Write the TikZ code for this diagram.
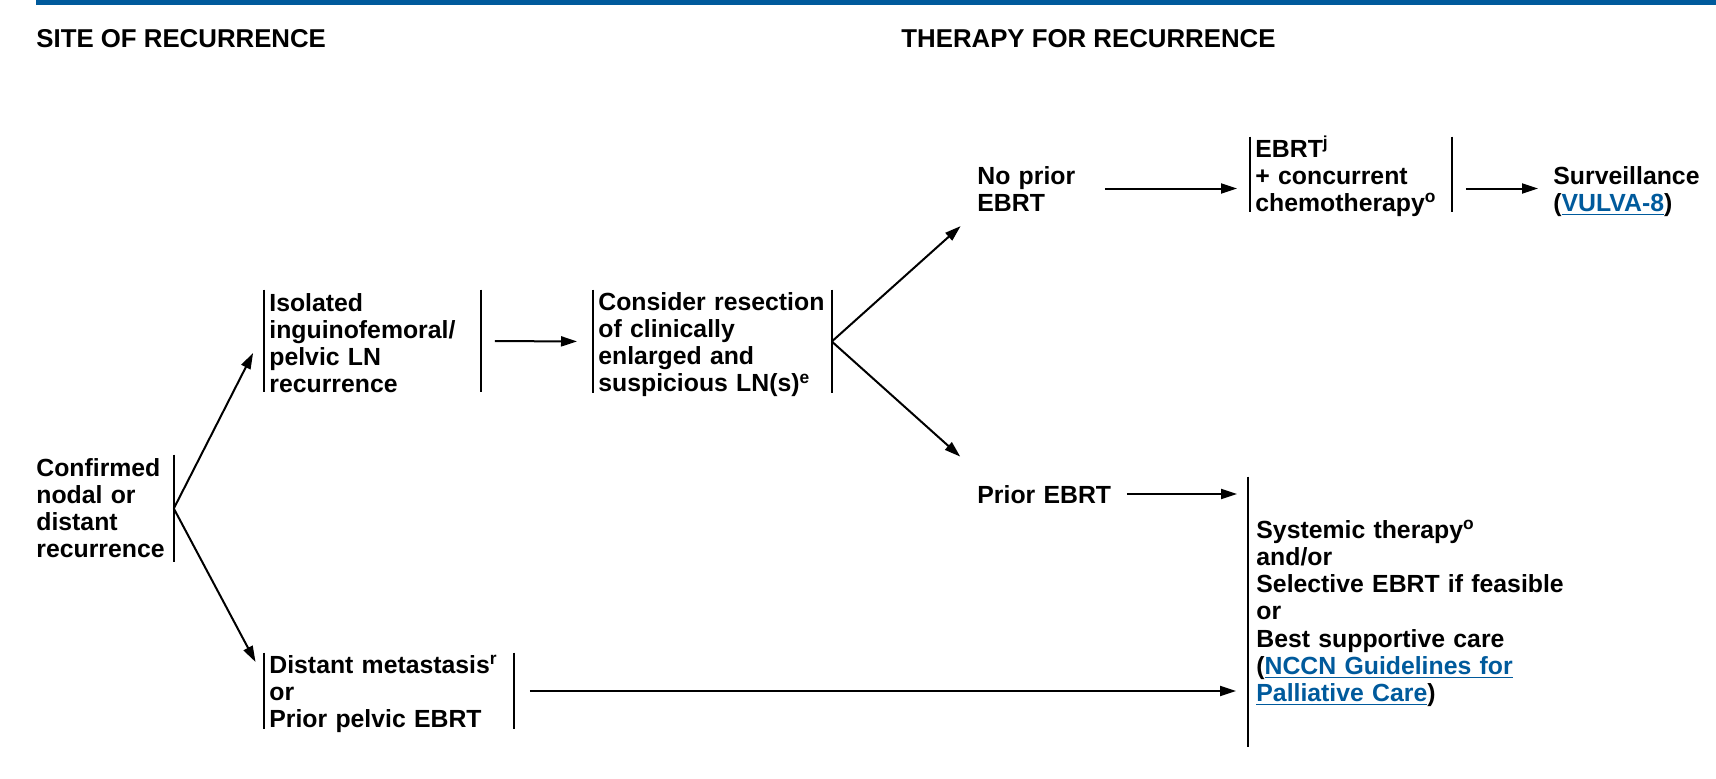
\documentclass[tikz,border=0pt]{standalone}
\usepackage{fontspec}
\setmainfont{Liberation Sans}
\usepackage{tikz}
\usetikzlibrary{arrows.meta}

\definecolor{nccnblue}{RGB}{0,90,156}
\newcommand{\linkto}[1]{{\color{nccnblue}\underline{#1}}}

\begin{document}
\begin{tikzpicture}[x=0.5pt, y=-0.5pt,
    every node/.style={inner sep=0pt, anchor=base west, align=left,
      font=\fontsize{12.4pt}{13.65pt}\selectfont\bfseries},
    heading/.style={font=\fontsize{12.9pt}{14pt}\selectfont\bfseries},
    bar/.style={draw, line width=1pt, -},
    bars/.style={inner xsep=2.5pt, append after command={
      (\tikzlastnode.north west) edge[bar] (\tikzlastnode.south west)
      (\tikzlastnode.north east) edge[bar] (\tikzlastnode.south east)}},
    rbar/.style={append after command={
      (\tikzlastnode.north east) edge[bar] (\tikzlastnode.south east)}},
    lbar/.style={inner xsep=4pt, append after command={
      (\tikzlastnode.north west) edge[bar] (\tikzlastnode.south west)}},
    arr/.style={draw, line width=1pt, -{Triangle[length=8pt,width=5pt]}}]
        \useasboundingbox (0,0) rectangle (1716,778);

        % Headings
        \fill[nccnblue] (36,0) rectangle (1716,5);
        \node[heading] (site) at (36,47) {SITE OF RECURRENCE};
        \node[heading] (therapy) at (901,47) {THERAPY FOR RECURRENCE};

        % Site of recurrence
        \node[rbar, text width=68.5pt, text height=10.5pt, text depth=43pt] (conf) at (36,476)
            {Confirmed\\nodal or\\distant\\recurrence};
        \node[bars, text width=103pt, text height=10.5pt, text depth=40.5pt] (iso) at (264,311)
            {Isolated\\inguinofemoral/\\pelvic LN\\recurrence};
        \node[bars, text width=119.5pt, text height=10pt, text depth=28pt] (dist) at (264,673)
            {Distant metastasis\textsuperscript{r}\\or\\Prior pelvic EBRT};

        % Therapy for recurrence
        \node[bars, text width=114pt, text height=10pt, text depth=41.5pt] (resect) at (593,310)
            {Consider resection\\of clinically\\enlarged and\\suspicious LN(s)\textsuperscript{e}};
        \node[text width=49pt, text height=9pt, text depth=13.5pt] (noprior) at (977,184)
            {No prior\\EBRT};
        \node[text width=67pt, text height=15.5pt, text depth=6.5pt] (prior) at (977,503)
            {Prior EBRT};
        \node[bars, text width=95.5pt, text height=10pt, text depth=27.5pt] (chemo) at (1250,157)
            {EBRT\textsuperscript{j}\\+ concurrent\\chemotherapy\textsuperscript{o}};
        \node[text width=75pt, text height=9pt, text depth=13.5pt] (surv) at (1553,184)
            {Surveillance\\(\linkto{VULVA-8})};
        \node[lbar, text width=160pt, text height=30.5pt, text depth=104.5pt] (palli) at (1248,538)
            {Systemic therapy\textsuperscript{o}\\and/or\\Selective EBRT if feasible\\or\\
             Best supportive care\\(\linkto{NCCN Guidelines for}\\\linkto{Palliative Care})};

        % Arrows
        \draw[arr, shorten >=12pt] (conf.east) -- (iso.175);
        \draw[arr, shorten >=9pt] (conf.east) -- (dist.174);
        \draw[arr, shorten <=7pt, shorten >=8pt] (iso.east) -- (resect.west);
        \draw[arr, shorten >=11pt] (resect.east) -- (noprior.south west);
        \draw[arr, shorten >=11.25pt] (resect.east) -- (prior.north west);
        \draw[arr, shorten <=14.5pt, shorten >=6.5pt] (noprior.east) -- (noprior.east -| chemo.west);
        \draw[arr, shorten <=7pt, shorten >=7.5pt] (chemo.east |- surv.west) -- (surv.west);
        \draw[arr, shorten <=7.5pt, shorten >=5.5pt] (prior.east) -- (prior.east -| palli.west);
        \draw[arr, shorten <=8pt, shorten >=6pt] (dist.east) -- (dist.east -| palli.west);
    \end{tikzpicture}
\end{document}
